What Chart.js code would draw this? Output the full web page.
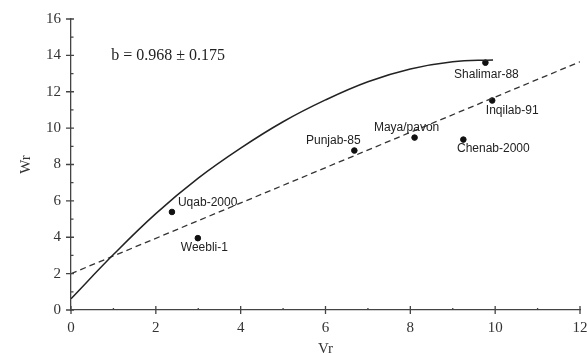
<!DOCTYPE html>
<html>
<head>
<meta charset="utf-8">
<script src="https://cdn.jsdelivr.net/npm/chart.js@4/dist/chart.umd.min.js"></script>
<style>
  html, body { margin: 0; padding: 0; background: #fff; }
  #wrap { width: 587px; height: 353px; }
</style>
</head>
<body>
<div id="wrap"><canvas id="myChart" width="587" height="353"></canvas></div>
<script>
// varieties (Vr, Wr)
const varieties = ['Uqab-2000', 'Weebli-1', 'Punjab-85', 'Maya/pavon', 'Chenab-2000', 'Inqilab-91', 'Shalimar-88'];
const vrValues = [2.38, 2.99, 6.68, 8.10, 9.25, 9.93, 9.77];
const wrValues = [5.39, 3.95, 8.77, 9.48, 9.37, 11.52, 13.60];

// limiting parabola
const curveVr = [0, 1, 2, 3, 4, 5, 6, 7, 8, 9, 9.95];
const curveWr = [0.62, 3.05, 5.3, 7.25, 8.9, 10.35, 11.55, 12.55, 13.25, 13.65, 13.75];

// regression line
const lineVr = [0, 12];
const lineWr = [2.0, 13.65];

const xTicks = [0, 2, 4, 6, 8, 10, 12];
const yTicks = [0, 2, 4, 6, 8, 10, 12, 14, 16];
const slopeText = 'b = 0.968 \u00b1 0.175';

const toPts = (xs, ys) => xs.map((x, i) => ({ x: x, y: ys[i] }));

// axis ticks crossing the axis lines, plus minor ticks
const axisTicks = {
  id: 'axisTicks',
  afterDraw(chart) {
    const ctx = chart.ctx;
    const xs = chart.scales.x, ys = chart.scales.y;
    const x0 = xs.getPixelForValue(0), y0 = ys.getPixelForValue(0);
    ctx.save();
    ctx.strokeStyle = '#444';
    ctx.lineWidth = 1.3;
    ctx.beginPath();
    for (let v = 0; v <= 12; v++) {
      const px = xs.getPixelForValue(v);
      if (v % 2 === 0) { ctx.moveTo(px, y0 - 4); ctx.lineTo(px, y0 + 4); }
      else { ctx.moveTo(px, y0 - 2); ctx.lineTo(px, y0); }
    }
    for (let v = 0; v <= 16; v++) {
      const py = ys.getPixelForValue(v);
      if (v % 2 === 0) { ctx.moveTo(x0 - 5, py); ctx.lineTo(x0 + 3, py); }
      else { ctx.moveTo(x0, py); ctx.lineTo(x0 + 2.5, py); }
    }
    ctx.stroke();
    ctx.restore();
  }
};

// variety names and slope text
const labelOffsets = {
  'Uqab-2000': [6, -9, 'left'],
  'Weebli-1': [-17, 10, 'left'],
  'Punjab-85': [-21, -10, 'center'],
  'Maya/pavon': [-8, -10, 'center'],
  'Chenab-2000': [30, 9, 'center'],
  'Inqilab-91': [20, 10, 'center'],
  'Shalimar-88': [1, 12, 'center']
};
const textLabels = {
  id: 'textLabels',
  afterDatasetsDraw(chart) {
    const ctx = chart.ctx;
    const xs = chart.scales.x, ys = chart.scales.y;
    ctx.save();
    ctx.fillStyle = '#222';
    ctx.font = '12px "Liberation Sans", Arial, sans-serif';
    ctx.textBaseline = 'middle';
    varieties.forEach((name, i) => {
      const o = labelOffsets[name];
      ctx.textAlign = o[2];
      ctx.fillText(name, xs.getPixelForValue(vrValues[i]) + o[0], ys.getPixelForValue(wrValues[i]) + o[1]);
    });
    ctx.font = '16px "Liberation Serif", "Times New Roman", serif';
    ctx.textAlign = 'left';
    ctx.fillText(slopeText, xs.getPixelForValue(0.95), ys.getPixelForValue(14));
    ctx.restore();
  }
};

const serif = { family: '"Liberation Serif", "Times New Roman", serif', size: 15 };

var ctx = document.getElementById('myChart').getContext('2d');
var chart = new Chart(ctx, {
  type: 'scatter',
  data: {
    datasets: [
      {
        label: 'curve',
        data: toPts(curveVr, curveWr),
        showLine: true,
        tension: 0.4,
        borderColor: '#222',
        borderWidth: 1.5,
        pointRadius: 0,
        fill: false
      },
      {
        label: 'regression',
        data: toPts(lineVr, lineWr),
        showLine: true,
        borderColor: '#333',
        borderWidth: 1.3,
        borderDash: [6, 4],
        pointRadius: 0,
        fill: false
      },
      {
        label: 'varieties',
        data: toPts(vrValues, wrValues),
        backgroundColor: '#111',
        borderColor: '#111',
        pointRadius: 2.8,
        showLine: false
      }
    ]
  },
  options: {
    responsive: false,
    animation: false,
    layout: { padding: { top: 8, right: 7, left: 17, bottom: -5 } },
    plugins: {
      legend: { display: false },
      tooltip: { enabled: false }
    },
    scales: {
      x: {
        type: 'linear',
        min: 0,
        max: 12,
        afterBuildTicks: (s) => { s.ticks = xTicks.map(v => ({ value: v })); },
        afterFit: (s) => { s.paddingRight = 0; },
        ticks: { font: serif, color: '#333', padding: 9, maxRotation: 0 },
        grid: { display: true, drawOnChartArea: false, drawTicks: false },
        border: { display: true, color: '#444', width: 1.3 },
        title: { display: true, text: 'Vr', font: serif, color: '#333', padding: { top: -6, bottom: 0 } }
      },
      y: {
        min: 0,
        max: 16,
        afterBuildTicks: (s) => { s.ticks = yTicks.map(v => ({ value: v })); },
        ticks: { font: serif, color: '#333', padding: 10 },
        grid: { display: true, drawOnChartArea: false, drawTicks: false },
        border: { display: true, color: '#444', width: 1.3 },
        title: { display: true, text: 'Wr', font: serif, color: '#333', padding: { top: 0, bottom: 1 } }
      }
    }
  },
  plugins: [axisTicks, textLabels]
});
</script>
</body>
</html>
